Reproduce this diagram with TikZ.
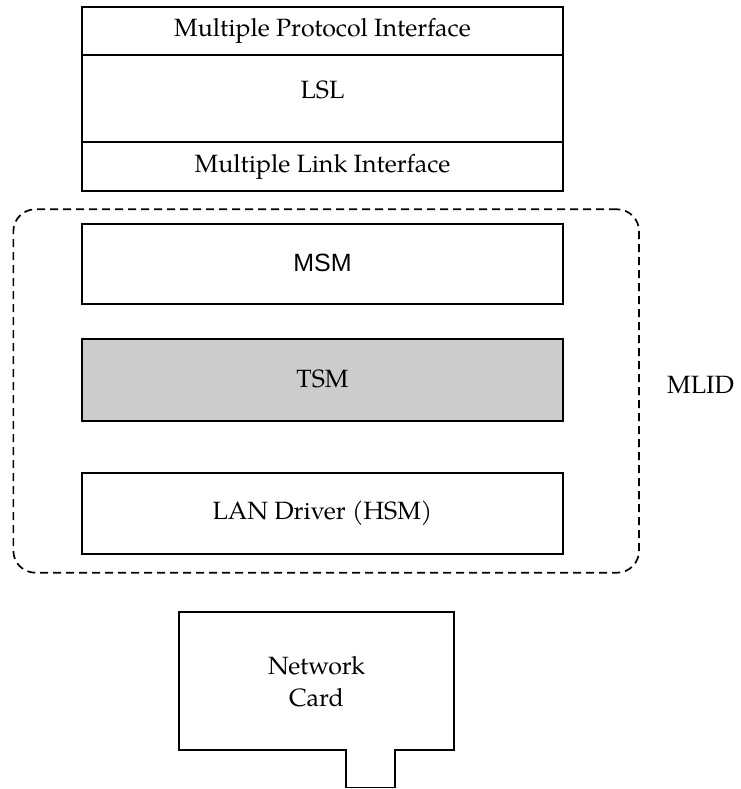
\documentclass[tikz,border=0pt]{standalone}
\usepackage{fontspec}
\setmainfont{texgyrepagella-regular.otf}
\newfontfamily\arialfont{Liberation Sans}
\definecolor{tsmgray}{RGB}{204,204,204}
\begin{document}
\begin{tikzpicture}[x=1pt,y=-1pt,
  layer/.style={draw, line width=1.7pt, inner sep=0pt, minimum width=481pt},
  lbl/.style={font=\fontsize{25}{32}\selectfont, inner sep=0pt},
  groupbox/.style={draw, line width=1.7pt, dash pattern=on 8pt off 5pt, rounded corners=22pt, inner sep=0pt},
  cardline/.style={line width=1.7pt, line join=miter}]
\useasboundingbox (0,0) rectangle (740,789);
% upper stack
\node[layer, minimum height=48pt] (mpi) at (322.5,31) {};
\node[lbl] (mpit) at (mpi.center) {Multiple Protocol Interface};
\node[layer, minimum height=87pt] (lsl) at (322.5,98.5) {};
\node[lbl, anchor=base] (lslt) at (322.5,99) {LSL};
\node[layer, minimum height=49pt] (mli) at (322.5,166.5) {};
\node[lbl] (mlit) at (mli.center) {Multiple Link Interface};
% MLID group
\node[groupbox, minimum width=625.7pt, minimum height=363.4pt] (mlidbox) at (326.2,391) {};
\node[layer, minimum height=80pt] (msm) at (322.5,264) {};
\node[lbl, font=\arialfont\fontsize{25}{32}\selectfont] (msmt) at (322.5,262.5) {MSM};
\node[layer, minimum height=82pt, fill=tsmgray] (tsm) at (322.5,380) {};
\node[lbl] (tsmt) at (322.5,379) {TSM};
\node[layer, minimum height=81pt] (lan) at (322.5,513.5) {};
\node[lbl] (lant) at (322.5,513.5) {LAN Driver (HSM)};
\node[lbl] (mlid) at (700.5,385.5) {MLID};
% network card
\draw[cardline] (179,612) -- (454,612) -- (454,750) -- (395,750) -- (395,787.5)
  -- (346,787.5) -- (346,750) -- (179,750) -- cycle;
\node[lbl, align=center] (card) at (316.5,682) {Network\\Card};
\end{tikzpicture}
\end{document}
